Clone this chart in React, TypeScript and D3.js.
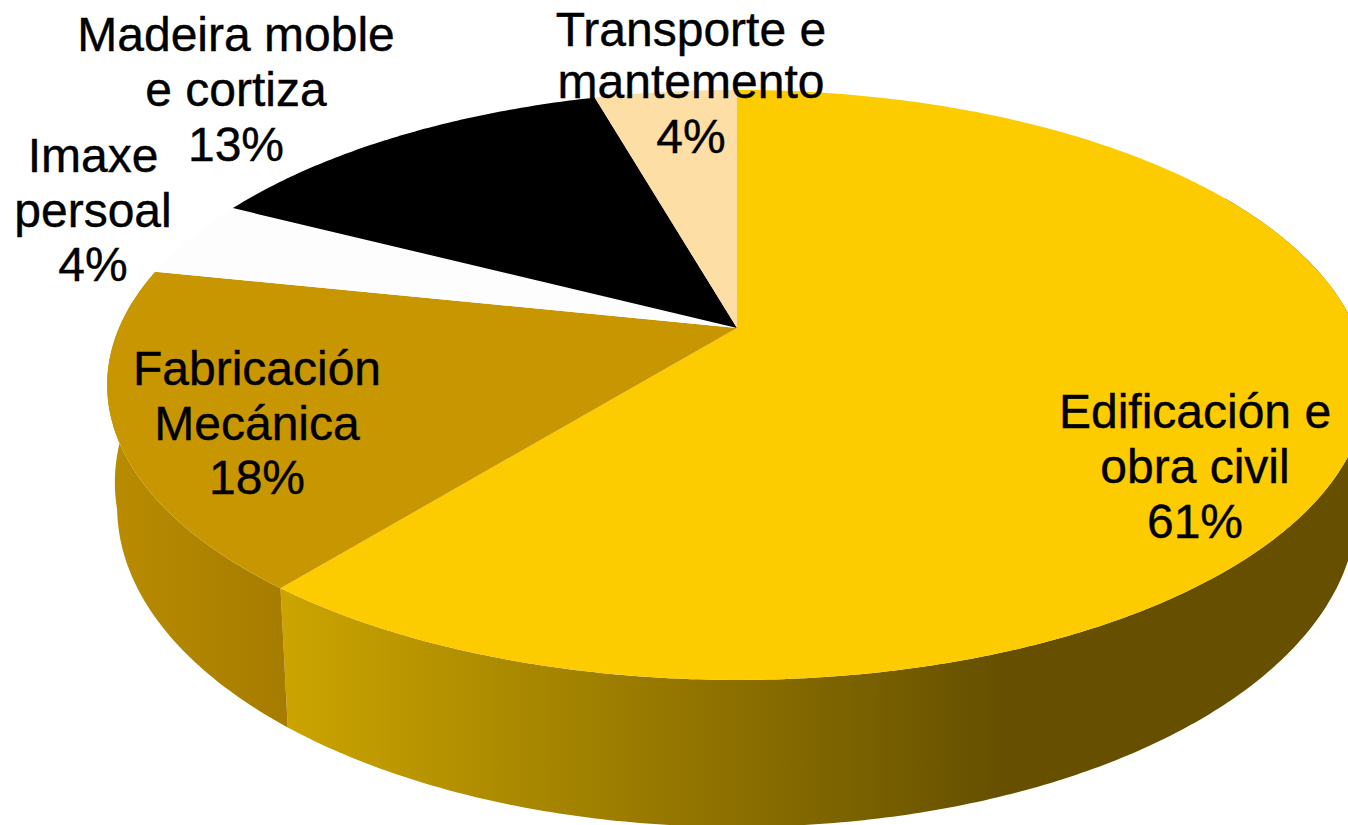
import React from "react";
import * as d3 from "d3";

const categories = ["Edificación e obra civil", "Fabricación Mecánica", "Imaxe persoal", "Madeira moble e cortiza", "Transporte e mantemento"];
const values = [60.8, 17.5, 4.3, 13.0, 4.4];
const percentLabels = ["61%", "18%", "4%", "13%", "4%"];
const labelLines = [["Edificación e", "obra civil"], ["Fabricación", "Mecánica"], ["Imaxe", "persoal"], ["Madeira moble", "e cortiza"], ["Transporte e", "mantemento"]];
const topColors = ["#fccb00", "#c89600", "#fdfdfd", "#000000", "#fddea5"];
const wallStops = [
  [["#cba400", 0], ["#665000", 1]],
  [["#b88b00", 0], ["#a67c00", 1]],
];

const W = 1348, H = 825;
const CX = 737, CY = 328, A = 618, B = 284, P = 0.193;

function topPoint(t: number): [number, number] {
  const u = Math.sin(t), v = -Math.cos(t), k = 1 - P * v;
  return [CX + (A * u) / k, CY + (B * v) / k];
}
function bottomPoint(t: number): [number, number] {
  const [x, y] = topPoint(t);
  const yb = 507 + ((y - 385) * 320) / 295;
  const flare = Math.max(0, 510 - yb) * 0.15 * Math.sign(x - CX);
  return [CX + ((x - CX) * 620) / 630 + flare, yb];
}
const samples = (a: number, b: number) => {
  const n = Math.max(2, Math.ceil((b - a) / 0.01));
  return d3.range(n + 1).map((i) => a + ((b - a) * i) / n);
};
const line = d3.line<[number, number]>();

const labelPos = [
  { x: 1195, ys: [428, 483, 538] },
  { x: 257, ys: [385, 440, 494] },
  { x: 93, ys: [172, 227, 281] },
  { x: 236, ys: [51, 106, 161] },
  { x: 691, ys: [46, 98, 153] },
];

export default function App() {
  const arcs = d3.pie<number>().sort(null).startAngle(0).endAngle(2 * Math.PI)(values);
  const topPath = (a: d3.PieArcDatum<number>) =>
    line([[CX, CY], ...samples(a.startAngle, a.endAngle).map(topPoint)])! + "Z";
  const wallPath = (a: d3.PieArcDatum<number>, clipStart: number) => {
    const ts = samples(Math.max(a.startAngle, clipStart), Math.min(a.endAngle, (3 * Math.PI) / 2 + 0.3));
    return line([...ts.map(topPoint), ...ts.slice().reverse().map(bottomPoint)])! + "Z";
  };
  const xs0 = [287, 1000];
  const xs1 = [115, 290];
  return (
    <svg width={W} height={H} viewBox={`0 0 ${W} ${H}`} style={{ position: "absolute", left: 0, top: 0, display: "block", background: "#fff" }}>
      <defs>
        {wallStops.map((st, i) => (
          <linearGradient key={i} id={`wall${i}`} gradientUnits="userSpaceOnUse" x1={(i ? xs1 : xs0)[0]} x2={(i ? xs1 : xs0)[1]} y1={0} y2={0}>
            {st.map(([c, o]) => (
              <stop key={String(o)} offset={o as number} stopColor={c as string} />
            ))}
          </linearGradient>
        ))}
      </defs>
      {arcs.slice(0, 2).map((a, i) => (
        <path key={categories[i]} d={wallPath(a, i === 0 ? Math.PI / 3 : 0)} fill={`url(#wall${i})`} />
      ))}
      {arcs.map((a, i) => (
        <path key={categories[i]} d={topPath(a)} fill={topColors[i]} />
      ))}
      <g fontFamily="'Liberation Sans', Arial, sans-serif" fontSize={48} textAnchor="middle" fill="#000" stroke="#000" strokeWidth={0.4}>
        {categories.map((c, i) => {
          const rows = [...labelLines[i], percentLabels[i]];
          return (
            <text key={c}>
              {rows.map((r, j) => (
                <tspan key={j} x={labelPos[i].x} y={labelPos[i].ys[j]}>{r}</tspan>
              ))}
            </text>
          );
        })}
      </g>
    </svg>
  );
}
